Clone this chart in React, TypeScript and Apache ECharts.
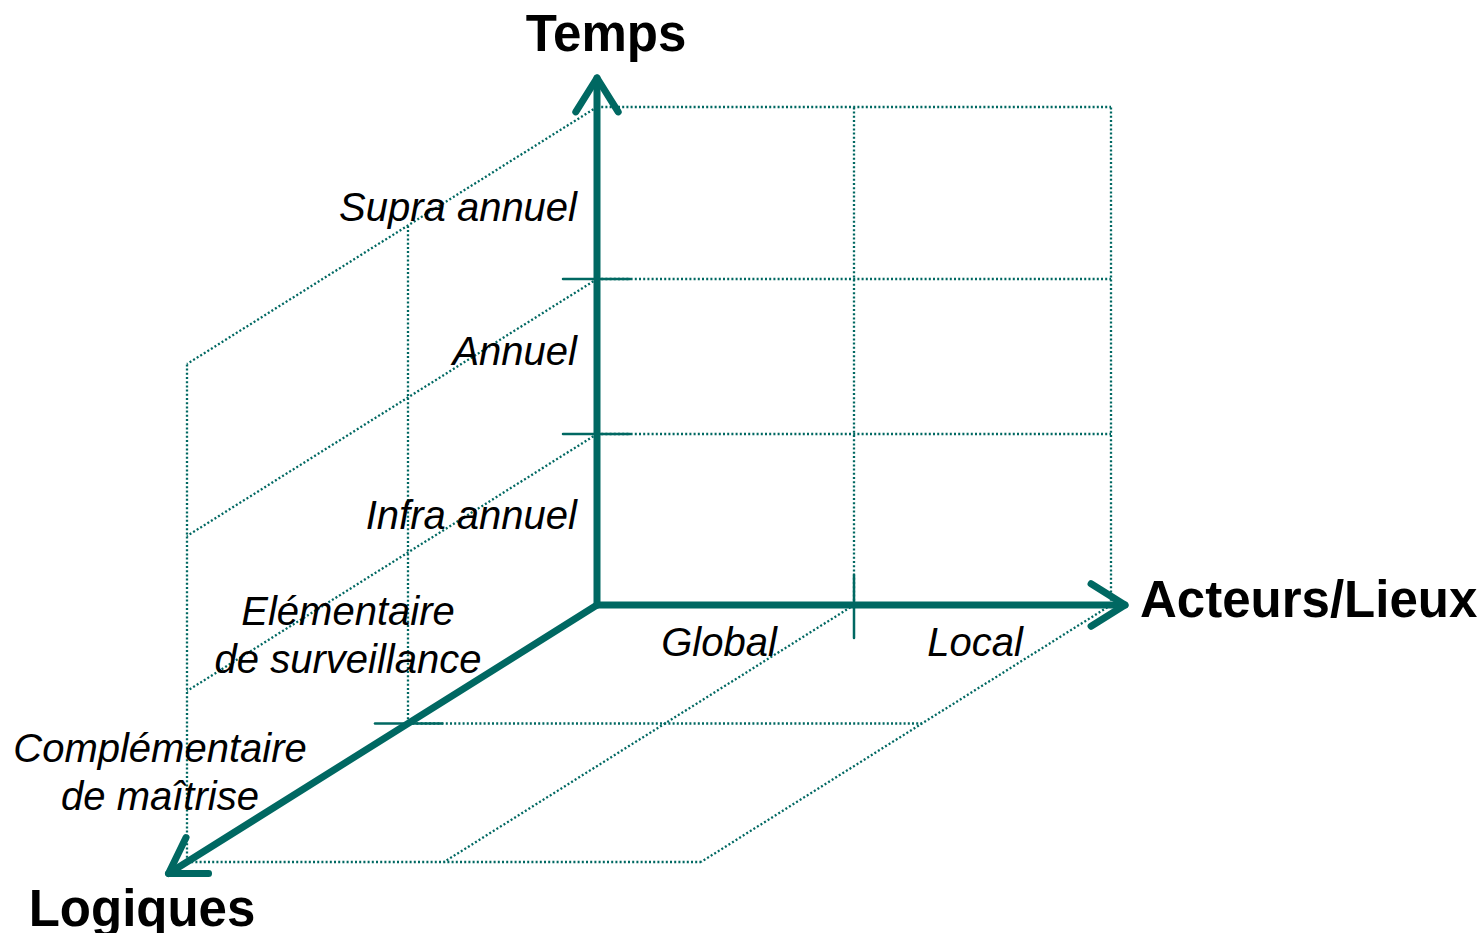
import React, { useEffect, useRef } from "react";
import * as echarts from "echarts";

// ---- Diagram "data": levels along the three axes (pixel scale of the projection) ----
const tempsLevels = [0, 171, 326, 498]; // heights of the Temps graduations
const acteursLevels = [0, 257, 514]; // widths of the Acteurs/Lieux graduations
const logiquesLevels = [0, 0.461, 1]; // fractions along the Logiques (depth) direction
const tempsLabels = ["Infra annuel", "Annuel", "Supra annuel"];
const acteursLabels = ["Global", "Local"];
const logiquesLabels = ["Elémentaire\nde surveillance", "Complémentaire\nde maîtrise"];
const axisNames = ["Temps", "Acteurs/Lieux", "Logiques"];

// ---- Layout (projection) ----
const W = 1483;
const H = 933;
const ORIGIN = [597, 605];
const DEPTH = [-410, 257];
const TEAL = "#006862";

function P(t: number, a: number, l: number): number[] {
  return [ORIGIN[0] + a + DEPTH[0] * l, ORIGIN[1] - t + DEPTH[1] * l];
}

function dotted(points: number[][]) {
  return {
    type: "line",
    data: points,
    symbol: "none",
    silent: true,
    z: 1,
    lineStyle: { color: TEAL, width: 2.3, type: [2, 2.2] },
  };
}

function solid(points: number[][], width: number, z = 3) {
  return {
    type: "line",
    data: points,
    symbol: "none",
    silent: true,
    z,
    lineStyle: { color: TEAL, width, cap: "round", join: "round" },
  };
}

function arrowHead(from: number[], tip: number[]) {
  const dx = tip[0] - from[0];
  const dy = tip[1] - from[1];
  const len = Math.hypot(dx, dy);
  const ux = dx / len;
  const uy = dy / len;
  const L = 40;
  const ang = (32 * Math.PI) / 180;
  const c = Math.cos(ang) * L;
  const s = Math.sin(ang) * L;
  return [
    [tip[0] - ux * c - uy * s, tip[1] - uy * c + ux * s],
    tip,
    [tip[0] - ux * c + uy * s, tip[1] - uy * c - ux * s],
  ];
}

function buildSeries() {
  const series: any[] = [];
  const tMax = tempsLevels[tempsLevels.length - 1];
  const aMax = acteursLevels[acteursLevels.length - 1];
  const lMax = logiquesLevels[logiquesLevels.length - 1];

  // Back plane (Temps x Acteurs)
  tempsLevels.slice(1).forEach((t) => series.push(dotted([P(t, 0, 0), P(t, aMax, 0)])));
  acteursLevels.slice(1).forEach((a) => series.push(dotted([P(0, a, 0), P(tMax, a, 0)])));
  // Left plane (Temps x Logiques)
  tempsLevels.slice(1).forEach((t) => series.push(dotted([P(t, 0, 0), P(t, 0, lMax)])));
  logiquesLevels.slice(1).forEach((l) => series.push(dotted([P(0, 0, l), P(tMax, 0, l)])));
  // Bottom plane (Acteurs x Logiques)
  logiquesLevels.slice(1).forEach((l) => series.push(dotted([P(0, 0, l), P(0, aMax, l)])));
  acteursLevels.slice(1).forEach((a) => series.push(dotted([P(0, a, 0), P(0, a, lMax)])));

  // Ticks
  tempsLevels.slice(1, 3).forEach((t) => {
    const p = P(t, 0, 0);
    series.push(solid([[p[0] - 34, p[1]], [p[0] + 33, p[1]]], 2.5, 2));
  });
  {
    const p = P(0, acteursLevels[1], 0);
    series.push(solid([[p[0], p[1] - 30], [p[0], p[1] + 33]], 2.5, 2));
  }
  {
    const p = P(0, 0, logiquesLevels[1]);
    series.push(solid([[p[0] - 33, p[1]], [p[0] + 34, p[1]]], 2.5, 2));
  }

  // Main axes with open arrows
  const o = P(0, 0, 0);
  const tipT = P(tMax + 29, 0, 0);
  const tipA = P(0, aMax + 14, 0);
  const tipL = P(0, 0, lMax * 1.045);
  series.push(solid([o, tipT], 7));
  series.push(solid([o, tipA], 7));
  series.push(solid([o, tipL], 7));
  series.push(solid(arrowHead(o, tipT), 7, 4));
  series.push(solid(arrowHead(o, tipA), 7, 4));
  series.push(solid(arrowHead(o, tipL), 7, 4));
  return series;
}

function buildGraphics() {
  const FONT = '"Liberation Sans", Arial, sans-serif';
  const italic = `italic 40px ${FONT}`;
  const bold = `bold 51px ${FONT}`;
  const els: any[] = [];
  const txt = (text: string, x: number, y: number, font: string, align: string) =>
    els.push({
      type: "text",
      x,
      y,
      z: 10,
      style: { text, font, fill: "#000", align, verticalAlign: "middle", lineHeight: 48 },
    });

  // Axis names
  txt(axisNames[0], 606, 33, bold, "center");
  txt(axisNames[1], 1140, 599, bold, "left");
  txt(axisNames[2], 142, 908, bold, "center");

  // Temps labels
  const tempsY = [515, 351, 207];
  tempsLabels.forEach((s, i) => txt(s, 577, tempsY[i], italic, "right"));
  // Acteurs labels
  const acteursX = [719, 975];
  acteursLabels.forEach((s, i) => txt(s, acteursX[i], 642, italic, "center"));
  // Logiques labels
  const logX = [348, 160];
  const logY = [635, 772];
  logiquesLabels.forEach((s, i) => txt(s, logX[i], logY[i], italic, "center"));
  return els;
}

export default function App() {
  const ref = useRef<HTMLDivElement>(null);
  useEffect(() => {
    document.body.style.margin = "0";
    if (!ref.current) return;
    const chart = echarts.init(ref.current, undefined, { renderer: "svg" });
    chart.setOption({
      animation: false,
      backgroundColor: "#ffffff",
      grid: { left: 0, right: 0, top: 0, bottom: 0, containLabel: false },
      xAxis: { type: "value", min: 0, max: W, show: false },
      yAxis: { type: "value", min: 0, max: H, inverse: true, show: false },
      series: buildSeries(),
      graphic: buildGraphics(),
    });
    return () => chart.dispose();
  }, []);
  return <div ref={ref} style={{ width: W, height: H }} />;
}
